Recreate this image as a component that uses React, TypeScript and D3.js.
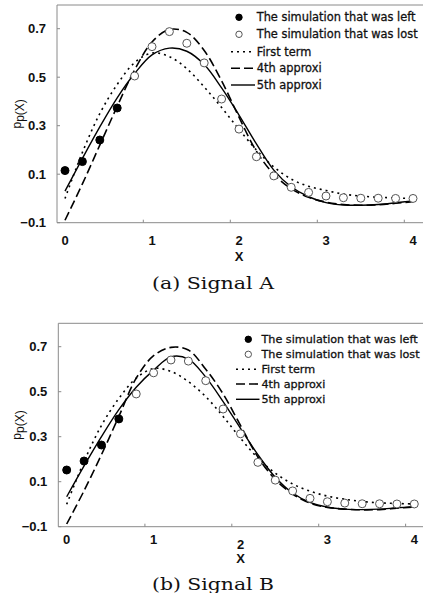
import React from "react";
import * as d3 from "d3";

// ---------- data ----------
const xValues = [0, 0.2, 0.4, 0.6, 0.8, 1.0, 1.2, 1.4, 1.6, 1.8, 2.0, 2.2, 2.4, 2.6, 2.8, 3.0, 3.2, 3.4, 3.6, 3.8, 4.0];
const leftCount = 4; // first points are "left" simulation

const aSim = [0.115, 0.152, 0.241, 0.373, 0.505, 0.626, 0.688, 0.64, 0.559, 0.41, 0.286, 0.172, 0.093, 0.046, 0.025, 0.01, 0.003, 0.001, 0.001, 0.0, 0.0];
const aFirst = [0.0, 0.19, 0.35, 0.47, 0.56, 0.6, 0.585, 0.535, 0.46, 0.375, 0.285, 0.2, 0.13, 0.08, 0.05, 0.033, 0.018, 0.01, 0.005, 0.002, 0.0];
const aFourth = [-0.09, 0.06, 0.22, 0.38, 0.53, 0.645, 0.697, 0.685, 0.61, 0.485, 0.335, 0.195, 0.1, 0.04, 0.005, -0.015, -0.025, -0.028, -0.026, -0.02, -0.013];
const aFifth = [0.03, 0.165, 0.295, 0.415, 0.515, 0.592, 0.62, 0.607, 0.552, 0.456, 0.344, 0.225, 0.117, 0.048, 0.007, -0.017, -0.027, -0.028, -0.025, -0.018, -0.01];

const bSim = [0.152, 0.192, 0.263, 0.379, 0.49, 0.584, 0.641, 0.636, 0.549, 0.423, 0.313, 0.186, 0.107, 0.059, 0.026, 0.011, 0.005, 0.002, 0.002, 0.001, 0.001];
const bFirst = [0.0, 0.19, 0.35, 0.47, 0.56, 0.603, 0.59, 0.545, 0.478, 0.39, 0.293, 0.205, 0.138, 0.09, 0.058, 0.036, 0.022, 0.012, 0.006, 0.003, 0.001];
const bFourth = [-0.088, 0.06, 0.22, 0.39, 0.56, 0.66, 0.697, 0.685, 0.6, 0.49, 0.35, 0.21, 0.11, 0.045, 0.005, -0.014, -0.022, -0.025, -0.024, -0.018, -0.012];
const bFifth = [0.033, 0.17, 0.3, 0.42, 0.52, 0.596, 0.655, 0.645, 0.565, 0.456, 0.337, 0.22, 0.12, 0.05, 0.008, -0.013, -0.022, -0.024, -0.022, -0.016, -0.011];

const xTickLabels = [0, 1, 2, 3, 4];
const xTickMarks = [0.9, 1.9, 2.9, 3.9];
const yTickValues = [-0.1, 0.1, 0.3, 0.5, 0.7];
const legendLabels = [
  "The simulation that was left",
  "The simulation that was lost",
  "First term",
  "4th approxi",
  "5th approxi",
];

// ---------- drawing ----------
const AXIS = "#8a8a8a";
const tickFont = "'Liberation Sans', Arial, sans-serif";
const legendFont = "'DejaVu Sans', sans-serif";

type Layout = {
  x0: number; x4: number; axisLeft: number; frameTop: number;
  yBottom: number; yTopVal: number;
  tickLabelY: number; xLabelY: number; captionY: number; caption: string;
  markerX: number; lineX1: number; lineX2: number; textX: number; rows: number[];
  label2Dy: number; legendSize: number;
};

function Panel({ sim, first, fourth, fifth, L }: { sim: number[]; first: number[]; fourth: number[]; fifth: number[]; L: Layout }) {
  const x = d3.scaleLinear().domain([0, 4]).range([L.x0, L.x4]);
  const y = d3.scaleLinear().domain([-0.1, 0.8]).range([L.yBottom, L.yTopVal]);
  const line = (vals: number[]) =>
    d3.line<number>().x((_, i) => x(xValues[i])).y((v) => y(v)).curve(d3.curveCatmullRom.alpha(0.5))(vals) || "";

  const styles = [
    { dash: "2 4", w: 1.6 },
    { dash: "9 4", w: 1.6 },
    { dash: "", w: 1.4 },
  ];
  const curves = [first, fourth, fifth];

  return (
    <g>
      {/* frame */}
      <line x1={L.axisLeft} x2={430} y1={L.frameTop} y2={L.frameTop} stroke={AXIS} strokeWidth={1} />
      <line x1={L.axisLeft} x2={L.axisLeft} y1={L.frameTop} y2={L.yBottom} stroke={AXIS} strokeWidth={1} />
      <line x1={L.axisLeft} x2={430} y1={L.yBottom} y2={L.yBottom} stroke={AXIS} strokeWidth={1} />
      {/* y ticks */}
      {yTickValues.map((v) => (
        <g key={v}>
          <line x1={L.axisLeft} x2={L.axisLeft + 3} y1={y(v)} y2={y(v)} stroke={AXIS} />
          <text x={L.axisLeft - 11} y={y(v)} dy="0.36em" textAnchor="end" fontFamily={tickFont} fontWeight="bold" fontSize={13} fill="#111">
            {v.toFixed(1).replace("-", "\u2212")}
          </text>
        </g>
      ))}
      {/* x ticks */}
      {xTickMarks.map((v) => (
        <line key={v} x1={x(v)} x2={x(v)} y1={L.yBottom} y2={L.yBottom - 3} stroke={AXIS} />
      ))}
      {xTickLabels.map((v) => (
        <text key={v} x={x(v)} y={L.tickLabelY + (v === 2 ? L.label2Dy : 0)} textAnchor="middle" fontFamily={tickFont} fontWeight="bold" fontSize={13} fill="#111">
          {v}
        </text>
      ))}
      <text x={x(2)} y={L.xLabelY} textAnchor="middle" fontFamily={tickFont} fontWeight="bold" fontSize={13} fill="#111">X</text>
      {/* y label */}
      <text transform={`translate(${21},${(L.frameTop + L.yBottom) / 2}) rotate(-90)`} textAnchor="middle" fontFamily={tickFont} fontSize={12} fill="#111">
        p<tspan dy={3}>p(X)</tspan>
      </text>
      {/* curves */}
      {curves.map((c, i) => (
        <path key={i} d={line(c)} fill="none" stroke="#000" strokeWidth={styles[i].w} strokeDasharray={styles[i].dash} />
      ))}
      {/* points */}
      {sim.map((v, i) => (
        <circle key={i} cx={x(xValues[i])} cy={y(v)} r={4} fill={i < leftCount ? "#000" : "#fff"} stroke={i < leftCount ? "#000" : "#555"} strokeWidth={1} />
      ))}
      {/* legend */}
      {legendLabels.map((lab, i) => (
        <g key={lab}>
          {i < 2 ? (
            <circle cx={L.markerX} cy={L.rows[i]} r={3.2} fill={i === 0 ? "#000" : "#fff"} stroke={i === 0 ? "#000" : "#555"} strokeWidth={1} />
          ) : (
            <line x1={L.lineX1} x2={L.lineX2} y1={L.rows[i]} y2={L.rows[i]} stroke="#000" strokeWidth={styles[i - 2].w} strokeDasharray={styles[i - 2].dash} />
          )}
          <text x={L.textX} y={L.rows[i]} dy="0.36em" fontFamily={legendFont} fontSize={L.legendSize} fill="#111" stroke="#111" strokeWidth={0.3}>{lab}</text>
        </g>
      ))}
      <text x={213} y={L.captionY} textAnchor="middle" fontFamily="'DejaVu Serif', serif" fontSize={17} textLength={122} lengthAdjust="spacingAndGlyphs" fill="#111">
        {L.caption}
      </text>
    </g>
  );
}

const layoutA: Layout = {
  x0: 65, x4: 413, axisLeft: 57, frameTop: 5, yBottom: 222.7, yTopVal: 4.45,
  tickLabelY: 245, xLabelY: 261, captionY: 289, caption: "(a) Signal A",
  markerX: 239, lineX1: 231, lineX2: 255, textX: 256.7, rows: [17.3, 34.3, 51.7, 68.3, 85],
  label2Dy: 0, legendSize: 11.4,
};
const layoutB: Layout = {
  x0: 66.7, x4: 414.3, axisLeft: 58.3, frameTop: 323.3, yBottom: 526.7, yTopVal: 324.2,
  tickLabelY: 544, xLabelY: 563, captionY: 590, caption: "(b) Signal B",
  markerX: 248.3, lineX1: 236, lineX2: 259.5, textX: 261.5, rows: [339.3, 354.3, 369.3, 384, 399.3],
  label2Dy: 5, legendSize: 11.2,
};

export default function App() {
  return (
    <svg width={423} height={593} style={{ position: "absolute", left: 0, top: 0, background: "#fff" }}>
      <rect width={423} height={593} fill="#fff" />
      <Panel sim={aSim} first={aFirst} fourth={aFourth} fifth={aFifth} L={layoutA} />
      <Panel sim={bSim} first={bFirst} fourth={bFourth} fifth={bFifth} L={layoutB} />
    </svg>
  );
}
